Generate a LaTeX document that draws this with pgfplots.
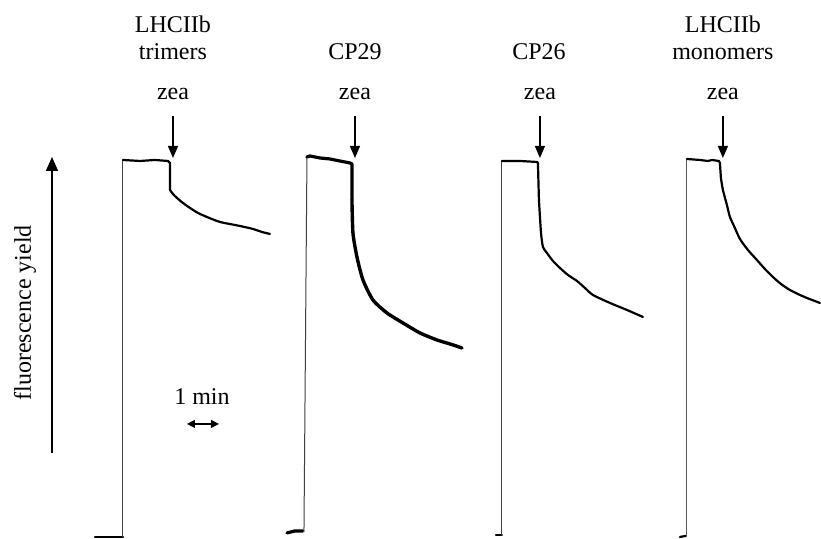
\documentclass[border=0pt,12pt]{standalone}
\usepackage{fontspec}
\setmainfont{Liberation Serif}
\usepackage{pgfplots}
\pgfplotsset{compat=1.18}
\usetikzlibrary{arrows.meta}
\begin{document}
\begin{tikzpicture}
\begin{axis}[
  scale only axis, width=410.5pt, height=269.5pt,
  xmin=0, xmax=821, ymin=0, ymax=539, y dir=reverse,
  hide axis, clip=false,
  every axis plot/.append style={no marks, line join=round, line cap=round},
]
\draw[draw=none] (rel axis cs:0,0) rectangle (rel axis cs:1,1);
% ---- LHCIIb trimers
\addplot[black, line width=1.1pt] coordinates {(95,537) (123,537)};
\addplot[black!75, line width=0.5pt] coordinates {(123,537) (123,160)};
\addplot[black, line width=1.1pt] coordinates {
 (123,160) (140,161) (155,160) (168,161) (170,163) (170,190)};
\addplot[black, line width=1.1pt, smooth, tension=0.4] coordinates {
 (170,190) (173,194) (177,198) (183,203) (190,208) (198,213) (207,217)
 (220,222) (240,226) (253,229) (262,232) (270,234)};
% ---- CP29
\addplot[black, line width=1.6pt] coordinates {(287,533) (295,531) (303,531)};
\addplot[black!75, line width=0.5pt] coordinates {(304,532) (307,157)};
\addplot[black, line width=1.6pt] coordinates {
 (307,157) (310,156) (320,158) (330,159) (340,161) (350,163) (352,164) (352,200)};
\addplot[black, line width=1.7pt, smooth, tension=0.4] coordinates {
 (352,200) (353,233) (357,257) (363,280) (373,300) (387,313) (403,323)
 (420,333) (437,340) (450,344) (462,348)};
% ---- CP26
\addplot[black, line width=1.1pt] coordinates {(496,535) (502,535)};
\addplot[black!75, line width=0.5pt] coordinates {(502,535) (502,161)};
\addplot[black, line width=1.1pt] coordinates {
 (502,161) (520,161) (537,162) (538,163) (539,200)};
\addplot[black, line width=1.1pt, smooth, tension=0.4] coordinates {
 (539,200) (541,232) (543,247) (547,253) (553,261) (560,268) (568,275)
 (577,281) (585,288) (593,295) (610,303) (627,310) (643,317)};
% ---- LHCIIb monomers
\addplot[black, line width=1.1pt] coordinates {(680,537) (686,536)};
\addplot[black!65, line width=0.5pt] coordinates {(687,536) (687,159)};
\addplot[black, line width=1.1pt] coordinates {
 (687,159) (700,160) (708,161) (712,160) (719,161) (720,163) (721,178)};
\addplot[black, line width=1.1pt, smooth, tension=0.4] coordinates {
 (721,178) (723,190) (727,205) (730,217) (735,228) (740,239) (748,250)
 (757,260) (765,269) (773,277) (781,284) (790,290) (800,295) (807,298) (820,303)};
% ---- annotations
\foreach \xx in {173,355,540,723} {
  \edef\tmp{\noexpand\draw[line width=0.6pt,-{Triangle[length=6pt,width=5pt]}] (axis cs:\xx,116) -- (axis cs:\xx,158);}
  \tmp
  \edef\tmp{\noexpand\node[anchor=base] at (axis cs:\xx,100) {zea};}
  \tmp
}
\node[anchor=base] at (axis cs:173,33) {LHCIIb};
\node[anchor=base] at (axis cs:173,60) {trimers};
\node[anchor=base] at (axis cs:355,60) {CP29};
\node[anchor=base] at (axis cs:539,60) {CP26};
\node[anchor=base] at (axis cs:723,33) {LHCIIb};
\node[anchor=base] at (axis cs:723,60) {monomers};
\draw[line width=0.8pt,-{Triangle[length=7pt,width=6pt]}] (axis cs:52,453) -- (axis cs:52,157);
\node[rotate=90, anchor=base] at (axis cs:31,313) {fluorescence yield};
\node[anchor=base] at (axis cs:202,405) {1 min};
\draw[line width=0.6pt,{Triangle[length=4pt,width=4pt]}-{Triangle[length=4pt,width=4pt]}] (axis cs:187,424) -- (axis cs:219,424);
\end{axis}
\end{tikzpicture}
\end{document}
